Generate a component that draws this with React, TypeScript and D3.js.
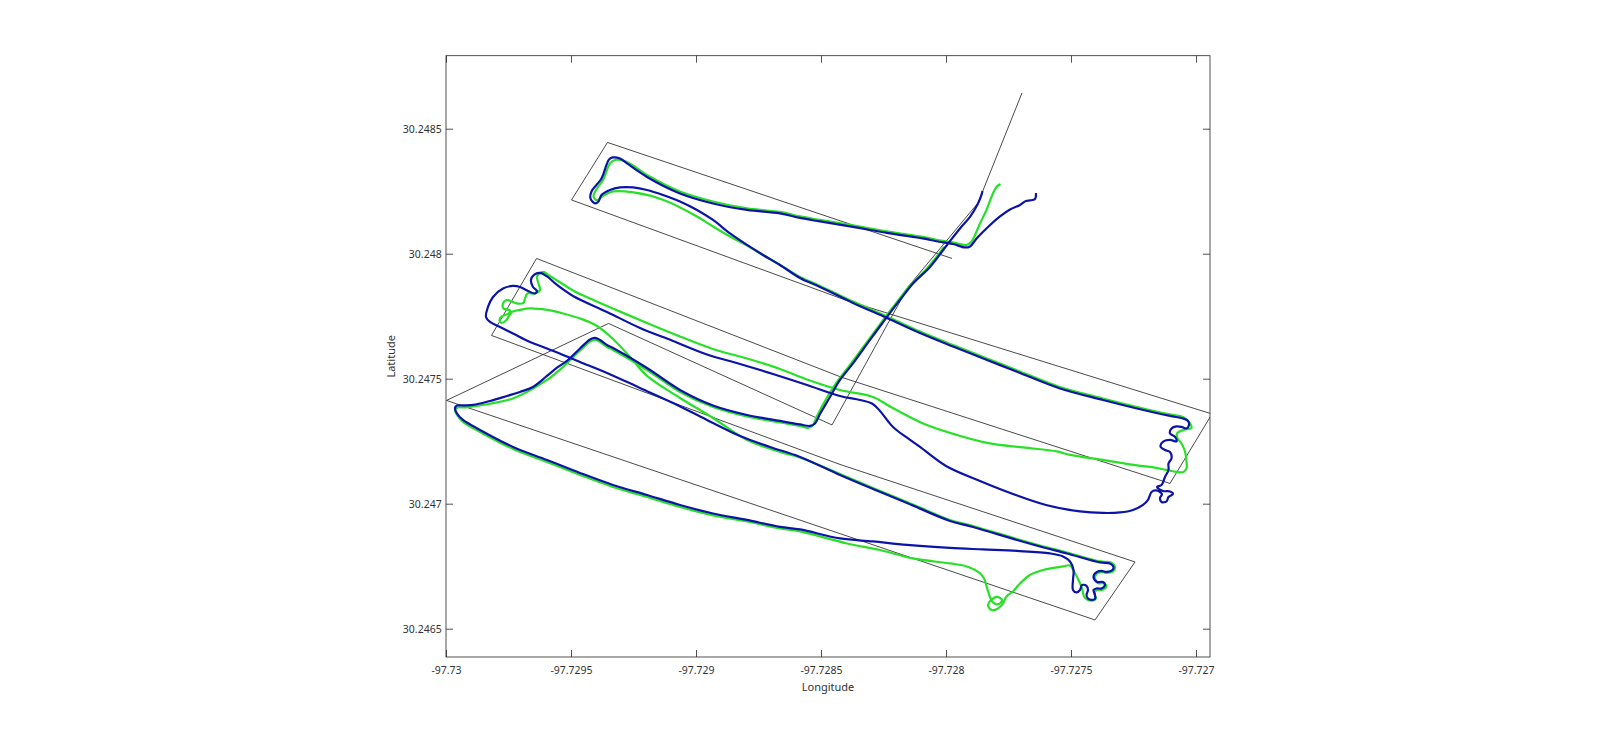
import { useEffect, useRef } from "react"
import * as d3 from "d3"

type Pt = [number, number]

// tick values and labels
const xTicks = [-97.73, -97.7295, -97.729, -97.7285, -97.728, -97.7275, -97.727]
const xTickLabels = ["-97.73", "-97.7295", "-97.729", "-97.7285", "-97.728", "-97.7275", "-97.727"]
const yTicks = [30.2465, 30.247, 30.2475, 30.248, 30.2485]
const yTickLabels = ["30.2465", "30.247", "30.2475", "30.248", "30.2485"]

// planned survey route (lon, lat)
const plannedRoute: Pt[] = [
  [-97.727696, 30.248643], [-97.727872, 30.248203], [-97.728152, 30.247867], [-97.728456, 30.247315],
  [-97.72935, 30.247721], [-97.729998, 30.247413], [-97.727404, 30.246535], [-97.727244, 30.246767],
  [-97.728424, 30.247157], [-97.729818, 30.247673], [-97.729638, 30.247981], [-97.728416, 30.247505],
  [-97.727104, 30.247081], [-97.726936, 30.247359], [-97.728392, 30.247811], [-97.729498, 30.248215],
  [-97.729354, 30.248445], [-97.727976, 30.247981],
]

// green track (lon, lat)
const greenTrack: Pt[] = [
  [-97.727782,30.248279],[-97.727798,30.248267],[-97.727818,30.248227],[-97.727838,30.248175],[-97.727864,30.248121],[-97.727884,30.248075],[-97.727898,30.248049],[-97.727918,30.248035],[-97.727972,30.248045],[-97.728012,30.248051],
  [-97.728104,30.248069],[-97.728236,30.248089],[-97.728372,30.248113],[-97.728504,30.248135],[-97.728584,30.248149],[-97.728664,30.248167],[-97.728796,30.248181],[-97.728932,30.248209],[-97.729064,30.248249],[-97.729196,30.248315],
  [-97.729276,30.248367],[-97.729324,30.248375],[-97.729344,30.248361],[-97.729372,30.248295],[-97.729396,30.248261],[-97.72941,30.248229],[-97.729396,30.248213],[-97.729376,30.248229],[-97.72933,30.248249],[-97.72925,30.248245],
  [-97.72913,30.248215],[-97.728996,30.248149],[-97.728932,30.248109],[-97.728864,30.248069],[-97.728796,30.248033],[-97.728732,30.247995],[-97.728664,30.247955],[-97.728584,30.247907],[-97.728504,30.247871],[-97.728372,30.247809],
  [-97.728236,30.247749],[-97.728104,30.247689],[-97.727972,30.247635],[-97.727836,30.247581],[-97.727704,30.247529],[-97.727544,30.247467],[-97.727372,30.247421],[-97.727236,30.247387],[-97.727104,30.247357],[-97.727052,30.247347],
  [-97.727024,30.247321],[-97.727018,30.247303],[-97.72705,30.247295],[-97.727076,30.247281],[-97.727074,30.247261],[-97.727058,30.247241],[-97.727044,30.247209],[-97.727038,30.247169],[-97.727038,30.247141],[-97.72705,30.247127],
  [-97.727078,30.247127],[-97.727118,30.247135],[-97.72717,30.247145],[-97.727236,30.247153],[-97.727372,30.247175],[-97.727504,30.247195],[-97.727556,30.247209],[-97.727692,30.247225],[-97.727824,30.247241],[-97.727956,30.247275],
  [-97.728092,30.247321],[-97.728224,30.247389],[-97.728292,30.247427],[-97.728424,30.247455],[-97.728556,30.247497],[-97.728664,30.247539],[-97.728796,30.247581],[-97.728932,30.247619],[-97.729064,30.247669],[-97.729196,30.247723],
  [-97.729356,30.247791],[-97.729464,30.247839],[-97.729492,30.247853],[-97.729584,30.247911],[-97.729612,30.247927],[-97.729636,30.247909],[-97.72963,30.247881],[-97.729624,30.247855],[-97.729644,30.247841],[-97.729674,30.247841],
  [-97.729684,30.247821],[-97.72969,30.247803],[-97.729718,30.247801],[-97.729738,30.247809],[-97.729758,30.247815],[-97.729772,30.247801],[-97.72977,30.247781],[-97.729744,30.247773],[-97.72975,30.247761],[-97.729778,30.247749],
  [-97.729786,30.247735],[-97.729778,30.247723],[-97.72976,30.247733],[-97.729736,30.247767],[-97.729704,30.247775],[-97.729664,30.247781],[-97.729596,30.247775],[-97.729532,30.247761],[-97.729464,30.247741],[-97.729396,30.247711],
  [-97.729332,30.247659],[-97.729264,30.247587],[-97.729196,30.247511],[-97.729064,30.247423],[-97.728932,30.247343],[-97.728796,30.247255],[-97.728664,30.247207],[-97.728584,30.247185],[-97.728424,30.247119],[-97.728292,30.247063],
  [-97.728156,30.247007],[-97.727984,30.246935],[-97.727892,30.246911],[-97.727716,30.246859],[-97.727624,30.246833],[-97.727516,30.246805],[-97.727384,30.246769],[-97.72734,30.246765],[-97.727324,30.246747],[-97.72733,30.246731],
  [-97.727356,30.246723],[-97.727378,30.246727],[-97.727396,30.246721],[-97.727404,30.246703],[-97.727392,30.246683],[-97.727368,30.246681],[-97.727358,30.246669],[-97.727376,30.246655],[-97.727398,30.246655],[-97.727406,30.246639],
  [-97.7274,30.246621],[-97.727412,30.246613],[-97.727432,30.246615],[-97.727448,30.246629],[-97.727454,30.246655],[-97.727468,30.246691],[-97.727488,30.246729],[-97.727504,30.246753],[-97.727532,30.246749],[-97.727612,30.246735],
  [-97.727664,30.246715],[-97.727704,30.246681],[-97.727732,30.246649],[-97.727758,30.246629],[-97.727772,30.246601],[-97.727792,30.246581],[-97.727818,30.246575],[-97.727832,30.246593],[-97.72782,30.246615],[-97.727794,30.246627],
  [-97.727776,30.246615],[-97.727788,30.246599],[-97.72781,30.246603],[-97.727824,30.246627],[-97.727836,30.246663],[-97.727848,30.246701],[-97.727868,30.246725],[-97.727916,30.246749],[-97.727984,30.246761],[-97.728132,30.246781],
  [-97.728264,30.246815],[-97.728396,30.246841],[-97.728584,30.246889],[-97.728664,30.246901],[-97.728796,30.246929],[-97.728932,30.246953],[-97.729064,30.246987],[-97.729196,30.247027],[-97.729332,30.247067],[-97.729464,30.247115],
  [-97.729596,30.247167],[-97.729732,30.247219],[-97.729864,30.247287],[-97.729932,30.247327],[-97.729956,30.247355],[-97.729964,30.247375],[-97.729952,30.247385],[-97.729924,30.247385],[-97.729864,30.247393],[-97.729732,30.247421],
  [-97.729596,30.247495],[-97.729532,30.247547],[-97.729464,30.247613],[-97.72942,30.247651],[-97.7294,30.247655],[-97.729356,30.247627],[-97.729332,30.247615],[-97.729196,30.247535],[-97.729064,30.247447],[-97.728932,30.247387],
  [-97.728796,30.247349],[-97.728664,30.247325],[-97.728584,30.247311],[-97.728552,30.247303],[-97.728532,30.247315],[-97.728516,30.247351],[-97.728476,30.247425],[-97.728436,30.247487],[-97.728384,30.247555],[-97.728316,30.247647],
  [-97.728248,30.247739],[-97.728196,30.247807],[-97.728144,30.247873],[-97.728076,30.247941],[-97.728008,30.248027],
]

// blue track (lon, lat)
const blueTrack: Pt[] = [
  [-97.72764,30.248243],[-97.727644,30.248219],[-97.727664,30.248213],[-97.72768,30.248211],[-97.727704,30.248195],[-97.727744,30.248177],[-97.727784,30.248149],[-97.727836,30.248103],[-97.727876,30.248063],[-97.727904,30.248029],
  [-97.727924,30.248025],[-97.727972,30.248039],[-97.728012,30.248045],[-97.728104,30.248063],[-97.728236,30.248083],[-97.728372,30.248107],[-97.728504,30.248129],[-97.728584,30.248143],[-97.728664,30.248161],[-97.728796,30.248175],
  [-97.728932,30.248201],[-97.729064,30.248241],[-97.729196,30.248307],[-97.729276,30.248361],[-97.729304,30.248381],[-97.729332,30.248385],[-97.729348,30.248377],[-97.729358,30.248355],[-97.729378,30.248301],[-97.729398,30.248275],
  [-97.729418,30.248249],[-97.729422,30.248221],[-97.729404,30.248201],[-97.72939,30.248209],[-97.729378,30.248235],[-97.729344,30.248255],[-97.729304,30.248265],[-97.729252,30.248265],[-97.729196,30.248255],[-97.729132,30.248235],
  [-97.729064,30.248209],[-97.728996,30.248175],[-97.728932,30.248135],[-97.728864,30.248081],[-97.728796,30.248035],[-97.728732,30.247995],[-97.728664,30.247955],[-97.728584,30.247903],[-97.728504,30.247867],[-97.728372,30.247803],
  [-97.728236,30.247743],[-97.728104,30.247683],[-97.727972,30.247629],[-97.727836,30.247575],[-97.727704,30.247523],[-97.727544,30.247461],[-97.727372,30.247415],[-97.727236,30.247381],[-97.727104,30.247351],[-97.727052,30.247341],
  [-97.727032,30.247331],[-97.727028,30.247315],[-97.727038,30.247301],[-97.727058,30.247307],[-97.727078,30.247309],[-97.727098,30.247301],[-97.727104,30.247281],[-97.727084,30.247267],[-97.727078,30.247249],[-97.727104,30.247255],
  [-97.72713,30.247249],[-97.727142,30.247229],[-97.727124,30.247215],[-97.727104,30.247207],[-97.727098,30.247181],[-97.72711,30.247161],[-97.72711,30.247135],[-97.727124,30.247107],[-97.727138,30.247075],[-97.727156,30.247067],
  [-97.727132,30.247051],[-97.727104,30.247049],[-97.727092,30.247039],[-97.72711,30.247027],[-97.727118,30.247009],[-97.727138,30.247007],[-97.727144,30.247023],[-97.727136,30.247039],[-97.72716,30.247053],[-97.727178,30.247047],
  [-97.727192,30.247015],[-97.727212,30.246995],[-97.727252,30.246975],[-97.727304,30.246965],[-97.727372,30.246963],[-97.727464,30.246969],[-97.7276,30.246995],[-97.727732,30.247039],[-97.727864,30.247091],[-97.728,30.247151],
  [-97.728104,30.247227],[-97.72816,30.247267],[-97.728212,30.247307],[-97.728264,30.247371],[-97.728296,30.247401],[-97.728344,30.247415],[-97.728424,30.247431],[-97.728556,30.247475],[-97.728692,30.247519],[-97.728824,30.247559],
  [-97.728956,30.247597],[-97.729092,30.247651],[-97.729224,30.247703],[-97.729356,30.247767],[-97.729492,30.247831],[-97.729556,30.247875],[-97.729596,30.247909],[-97.729624,30.247923],[-97.729648,30.247915],[-97.72966,30.247895],
  [-97.729652,30.247867],[-97.729636,30.247851],[-97.729644,30.247841],[-97.729672,30.247851],[-97.729704,30.247867],[-97.729732,30.247871],[-97.729772,30.247861],[-97.729812,30.247827],[-97.729832,30.247787],[-97.72984,30.247747],
  [-97.729824,30.247727],[-97.729784,30.247707],[-97.729732,30.247681],[-97.729664,30.247647],[-97.729596,30.247621],[-97.729532,30.247595],[-97.729464,30.247567],[-97.729356,30.247523],[-97.729224,30.247463],[-97.729092,30.247403],
  [-97.728956,30.247335],[-97.728824,30.247271],[-97.728704,30.247227],[-97.728584,30.247187],[-97.728424,30.247115],[-97.728292,30.247059],[-97.728156,30.247003],[-97.727984,30.246931],[-97.727892,30.246907],[-97.727716,30.246855],
  [-97.727624,30.246829],[-97.727516,30.246801],[-97.727384,30.246765],[-97.727344,30.246761],[-97.72733,30.246747],[-97.727334,30.246735],[-97.727356,30.246727],[-97.727378,30.246731],[-97.727396,30.246727],[-97.72741,30.246707],
  [-97.727396,30.246687],[-97.727372,30.246687],[-97.727364,30.246675],[-97.727378,30.246661],[-97.727398,30.246661],[-97.72741,30.246655],[-97.727404,30.246635],[-97.727404,30.246619],[-97.727418,30.246615],[-97.727432,30.246621],
  [-97.727438,30.246635],[-97.727432,30.246655],[-97.727438,30.246671],[-97.727456,30.246675],[-97.727464,30.246655],[-97.727478,30.246645],[-97.727492,30.246655],[-97.727492,30.246695],[-97.72749,30.246735],[-97.727504,30.246769],
  [-97.727532,30.246789],[-97.727584,30.246801],[-97.727716,30.246811],[-97.727852,30.246817],[-97.727984,30.246823],[-97.728156,30.246835],[-97.728292,30.246849],[-97.728424,30.246861],[-97.728584,30.246897],[-97.728664,30.246907],
  [-97.728796,30.246935],[-97.728932,30.246961],[-97.729064,30.246995],[-97.729196,30.247035],[-97.729332,30.247075],[-97.729464,30.247123],[-97.729596,30.247175],[-97.729732,30.247227],[-97.729864,30.247295],[-97.729932,30.247335],
  [-97.729956,30.247361],[-97.729964,30.247383],[-97.729956,30.247393],[-97.729944,30.247393],[-97.729892,30.247395],[-97.729824,30.247411],[-97.729756,30.247431],[-97.729704,30.247447],[-97.729652,30.247467],[-97.729596,30.247511],
  [-97.729552,30.247547],[-97.729516,30.247571],[-97.729464,30.247621],[-97.729424,30.247657],[-97.729404,30.247663],[-97.729384,30.247655],[-97.729356,30.247635],[-97.729332,30.247623],[-97.729196,30.247543],[-97.729064,30.247455],
  [-97.728932,30.247393],[-97.728796,30.247355],[-97.728664,30.247331],[-97.728584,30.247317],[-97.728544,30.247311],[-97.728524,30.247321],[-97.728504,30.247359],[-97.728464,30.247427],[-97.728424,30.247495],[-97.728372,30.247561],
  [-97.728304,30.247655],[-97.728236,30.247747],[-97.728184,30.247815],[-97.728132,30.247881],[-97.728064,30.247947],[-97.727996,30.248035],[-97.727944,30.248101],[-97.727904,30.248147],[-97.727872,30.248201],[-97.727858,30.248235],
  [-97.727854,30.248251],
]

export default function App() {
  const svgRef = useRef<SVGSVGElement>(null)

  useEffect(() => {
    if (!svgRef.current) return

    const svg = d3.select(svgRef.current)
    svg.selectAll("*").remove()

    const box = { left: 446, right: 1210, top: 55.7, bottom: 657 }
    const font = "'Noto Sans', 'DejaVu Sans', sans-serif"

    // equal-aspect scales (250000 px per degree)
    const x = d3.scaleLinear().domain([-97.73, -97.726944]).range([box.left, box.right])
    const y = d3.scaleLinear().domain([30.2463868, 30.248792]).range([box.bottom, box.top])

    svg.append("rect").attr("width", 1600).attr("height", 740).attr("fill", "white")

    svg
      .append("defs")
      .append("clipPath")
      .attr("id", "plot-clip")
      .append("rect")
      .attr("x", box.left)
      .attr("y", box.top)
      .attr("width", box.right - box.left)
      .attr("height", box.bottom - box.top)

    const plot = svg.append("g").attr("clip-path", "url(#plot-clip)")

    const route = d3
      .line<Pt>()
      .x((d) => x(d[0]))
      .y((d) => y(d[1]))

    const track = d3
      .line<Pt>()
      .x((d) => x(d[0]))
      .y((d) => y(d[1]))
      .curve(d3.curveCatmullRom.alpha(0.5))

    plot
      .append("path")
      .datum(plannedRoute)
      .attr("fill", "none")
      .attr("stroke", "#1a1a1a")
      .attr("stroke-width", 0.8)
      .attr("d", route)

    plot
      .append("path")
      .datum(greenTrack)
      .attr("fill", "none")
      .attr("stroke", "#28e028")
      .attr("stroke-width", 2.2)
      .attr("stroke-linejoin", "round")
      .attr("d", track)

    plot
      .append("path")
      .datum(blueTrack)
      .attr("fill", "none")
      .attr("stroke", "#0c14a8")
      .attr("stroke-width", 2.2)
      .attr("stroke-linejoin", "round")
      .attr("d", track)

    // axes: inward ticks on all four sides
    const styleAxis = (g: d3.Selection<SVGGElement, unknown, null, undefined>) => {
      g.select(".domain").remove()
      g.selectAll(".tick line").attr("stroke", "#262626").attr("stroke-width", 0.8)
      g.selectAll("text").attr("fill", "#333333").attr("font-size", 10.5).attr("font-family", font)
    }

    svg
      .append("g")
      .attr("transform", `translate(0,${box.bottom})`)
      .call(
        d3
          .axisBottom(x)
          .tickValues(xTicks)
          .tickSize(-7)
          .tickPadding(9.5)
          .tickFormat((_, i) => xTickLabels[i]),
      )
      .call(styleAxis)

    svg
      .append("g")
      .attr("transform", `translate(0,${box.top})`)
      .call(
        d3
          .axisTop(x)
          .tickValues(xTicks)
          .tickSize(-7)
          .tickFormat(() => ""),
      )
      .call(styleAxis)

    svg
      .append("g")
      .attr("transform", `translate(${box.left},0)`)
      .call(
        d3
          .axisLeft(y)
          .tickValues(yTicks)
          .tickSize(-7)
          .tickPadding(4.3)
          .tickFormat((_, i) => yTickLabels[i]),
      )
      .call(styleAxis)

    svg
      .append("g")
      .attr("transform", `translate(${box.right},0)`)
      .call(
        d3
          .axisRight(y)
          .tickValues(yTicks)
          .tickSize(-7)
          .tickFormat(() => ""),
      )
      .call(styleAxis)

    svg
      .append("rect")
      .attr("x", box.left)
      .attr("y", box.top)
      .attr("width", box.right - box.left)
      .attr("height", box.bottom - box.top)
      .attr("fill", "none")
      .attr("stroke", "#262626")
      .attr("stroke-width", 0.8)

    // axis titles
    svg
      .append("text")
      .attr("x", (box.left + box.right) / 2)
      .attr("y", 691)
      .attr("text-anchor", "middle")
      .attr("fill", "#333333")
      .attr("font-size", 11)
      .attr("font-family", font)
      .text("Longitude")

    svg
      .append("text")
      .attr("transform", `translate(395,${(box.top + box.bottom) / 2}) rotate(-90)`)
      .attr("text-anchor", "middle")
      .attr("fill", "#333333")
      .attr("font-size", 11)
      .attr("font-family", font)
      .text("Latitude")
  }, [])

  return <svg ref={svgRef} width={1600} height={740} style={{ position: "absolute", left: 0, top: 0 }} />
}
